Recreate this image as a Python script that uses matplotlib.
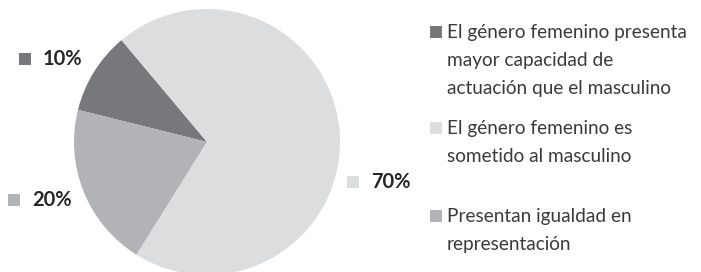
import matplotlib
matplotlib.use("Agg")
import matplotlib.pyplot as plt
from matplotlib.patches import Rectangle

# ---- data ----
categories = [
    "El género femenino presenta\nmayor capacidad de\nactuación que el masculino",
    "El género femenino es\nsometido al masculino",
    "Presentan igualdad en\nrepresentación",
]
values = [10, 70, 20]
pct_labels = ["10%", "70%", "20%"]
colors = ["#77787b", "#dcdddf", "#b2b3b6"]

# drawing order of the slices (counter-clockwise from start angle)
pie_order = [0, 2, 1]

W, H = 701, 272
fig = plt.figure(figsize=(W / 100, H / 100), dpi=100)
plt.rcParams['font.family'] = ['Lato', 'DejaVu Sans']

def fx(x):
    return x / W

def fy(y):
    return 1 - y / H

# pie axes: center (207,142) radius 133 px
cx, cy, r = 207, 142, 133
ax = fig.add_axes([fx(cx - r), fy(cy + r), 2 * r / W, 2 * r / H])
ax.pie([values[i] for i in pie_order],
       colors=[colors[i] for i in pie_order],
       startangle=130, counterclock=True, radius=1,
       wedgeprops=dict(linewidth=0))
ax.set_xlim(-1, 1)
ax.set_ylim(-1, 1)
ax.set_aspect('auto')
ax.axis('off')

# percentage labels (square key + bold value)
label_pos = {0: (19, 59), 1: (347, 182), 2: (8, 200)}  # square left x, center y
sq = 12
for i, (x, y) in label_pos.items():
    fig.patches.append(Rectangle((fx(x), fy(y + sq / 2)), sq / W, sq / H,
                                 transform=fig.transFigure, color=colors[i],
                                 linewidth=0))
    fig.text(fx(x + 24), fy(y), pct_labels[i], fontsize=14.5, fontweight='bold',
             color='#262626', va='center', ha='left')

# legend
leg_y = [32, 128, 216]
for i, y in enumerate(leg_y):
    fig.patches.append(Rectangle((fx(430), fy(y + sq / 2)), sq / W, sq / H,
                                 transform=fig.transFigure, color=colors[i],
                                 linewidth=0))
    fig.text(fx(447), fy(y - 8), categories[i], fontsize=13.7, color='#3a3a3a',
             va='top', ha='left', linespacing=1.78)

fig.savefig("out.png", dpi=100)
